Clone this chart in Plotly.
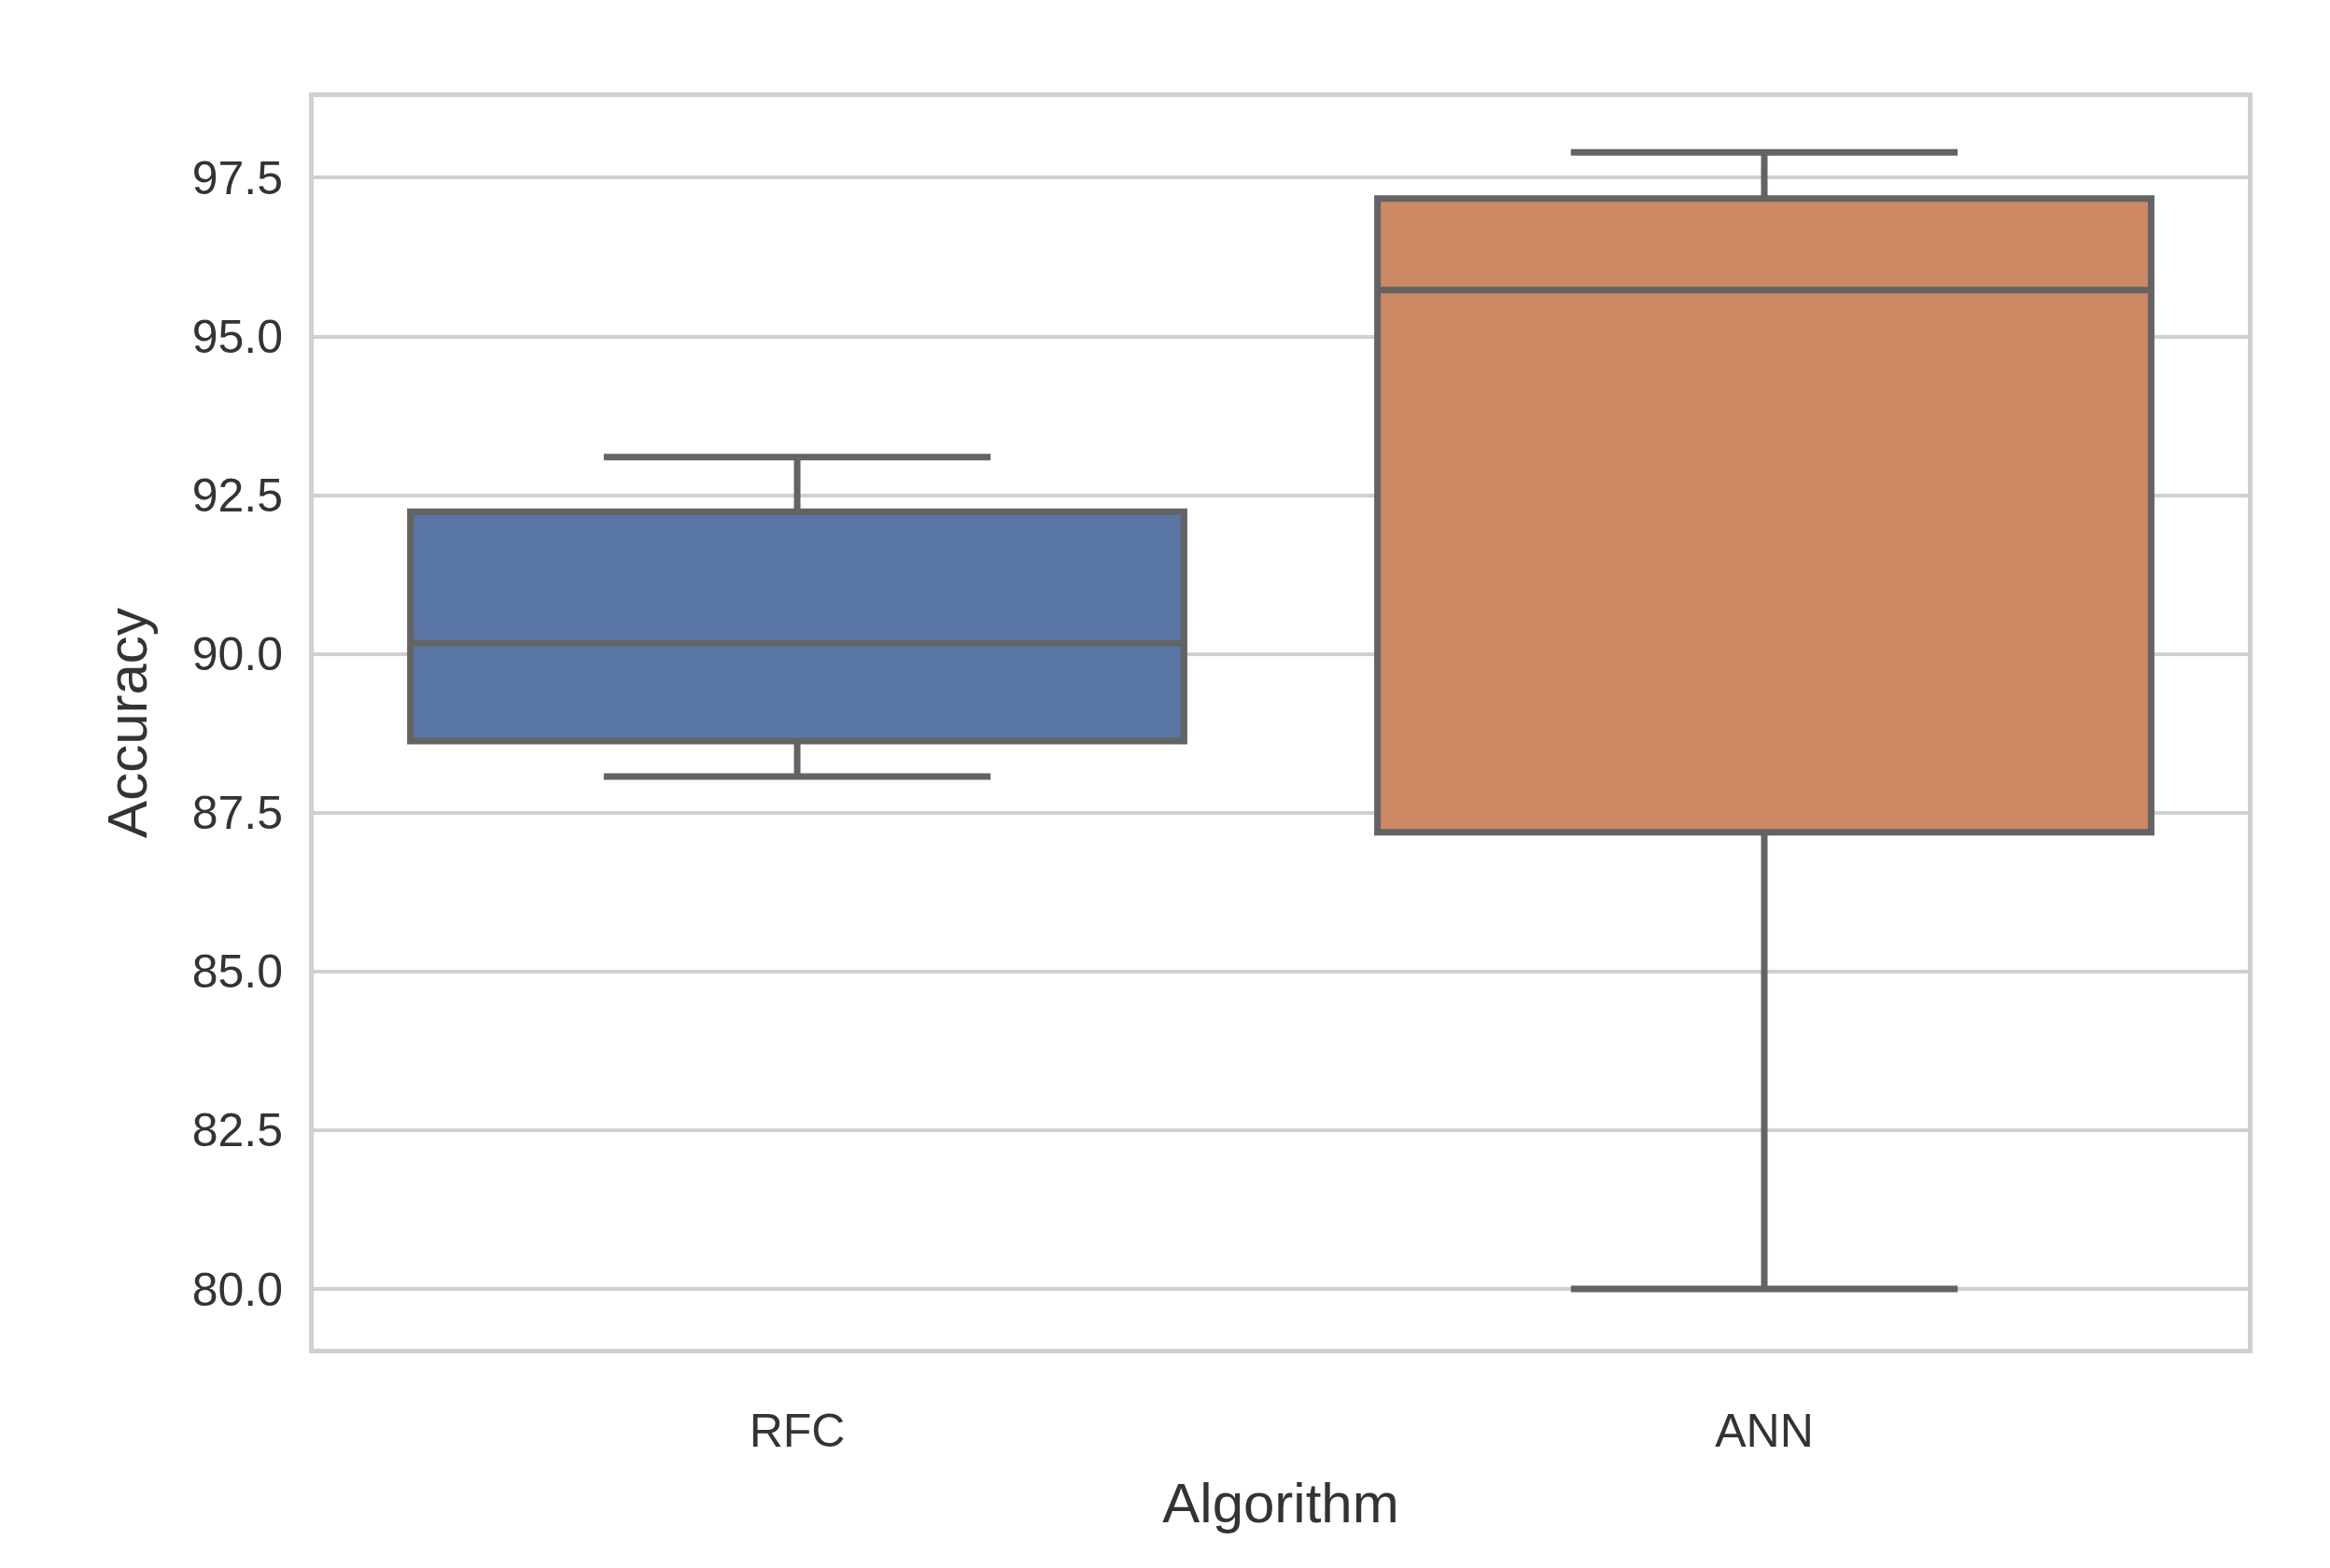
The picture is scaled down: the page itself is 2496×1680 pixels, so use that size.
import plotly.graph_objects as go

categories = ["RFC", "ANN"]
lower = [88.07, 80.0]
q1 = [88.63, 87.19]
median = [90.17, 95.73]
q3 = [92.24, 97.17]
upper = [93.1, 97.9]
colors = ["#5975a4", "#cc8963"]
tickvals = [80.0, 82.5, 85.0, 87.5, 90.0, 92.5, 95.0, 97.5]

fig = go.Figure()
for i, c in enumerate(categories):
    fig.add_trace(go.Box(
        x=[c], q1=[q1[i]], median=[median[i]], q3=[q3[i]],
        lowerfence=[lower[i]], upperfence=[upper[i]],
        fillcolor=colors[i], line=dict(color="#636363", width=7),
        width=0.8, whiskerwidth=0.5, showlegend=False, boxpoints=False,
        hoverinfo="skip"))

fig.update_layout(
    width=2496, height=1680, paper_bgcolor="white", plot_bgcolor="white",
    margin=dict(l=328, r=96, t=96, b=243),
    font=dict(family="Liberation Sans", size=50, color="#333333"),
    xaxis=dict(title=dict(text="Algorithm", standoff=30), showgrid=False,
               showline=True, mirror=True, linecolor="#d0d0d0", linewidth=5,
               ticks="outside", ticklen=40, tickcolor="rgba(0,0,0,0)",
               range=[-0.5, 1.5], categoryorder="array", categoryarray=categories),
    yaxis=dict(title=dict(text="Accuracy", standoff=30), range=[79.06, 98.77],
               tickvals=tickvals, ticktext=[f"{v:.1f}" for v in tickvals],
               showgrid=True, gridcolor="#d0d0d0", gridwidth=4, zeroline=False,
               showline=True, mirror=True, linecolor="#d0d0d0", linewidth=5,
               ticks="outside", ticklen=18, tickcolor="rgba(0,0,0,0)"),
)
fig.write_html("out.html")
